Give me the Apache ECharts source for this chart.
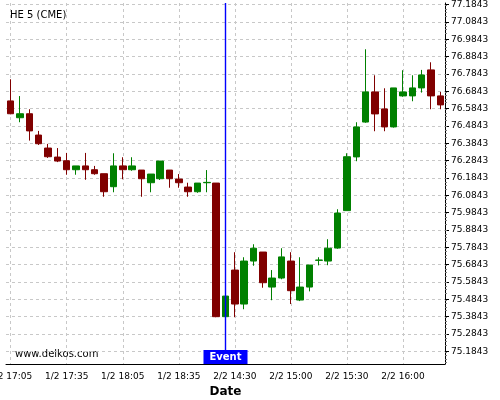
<!DOCTYPE html>
<html><head><meta charset="utf-8">
<script src="https://cdn.jsdelivr.net/npm/echarts@6/dist/echarts.min.js"></script>
<style>html,body{margin:0;padding:0;background:#fff}#c{width:500px;height:400px}</style>
</head><body><div id="c"></div>
<script>
const categories = [
  '1/2 17:05','1/2 17:10','1/2 17:15','1/2 17:20','1/2 17:25','1/2 17:30',
  '1/2 17:35','1/2 17:40','1/2 17:45','1/2 17:50','1/2 17:55','1/2 18:00',
  '1/2 18:05','1/2 18:10','1/2 18:15','1/2 18:20','1/2 18:25','1/2 18:30',
  '1/2 18:35','1/2 18:40','1/2 18:45','1/2 18:50','1/2 18:55','2/2 14:25',
  '2/2 14:30','2/2 14:35','2/2 14:40','2/2 14:45','2/2 14:50','2/2 14:55',
  '2/2 15:00','2/2 15:05','2/2 15:10','2/2 15:15','2/2 15:20','2/2 15:25',
  '2/2 15:30','2/2 15:35','2/2 15:40','2/2 15:45','2/2 15:50','2/2 15:55',
  '2/2 16:00','2/2 16:05','2/2 16:10','2/2 16:15','2/2 16:20'
];
const opens = [
  76.629,76.532,76.555,76.432,76.357,76.305,76.284,76.232,76.254,76.232,76.209,76.134,
  76.254,76.232,76.230,76.157,76.180,76.230,76.178,76.132,76.105,76.157,76.155,75.384,
  75.653,75.457,75.705,75.757,75.555,75.607,75.705,75.480,75.555,75.709,75.705,75.780,
  75.996,76.306,76.507,76.681,76.583,76.479,76.658,76.658,76.704,76.808,76.658
];
const closes = [
  76.555,76.555,76.456,76.382,76.307,76.282,76.232,76.254,76.232,76.209,76.105,76.254,
  76.232,76.254,76.180,76.207,76.282,76.180,76.157,76.105,76.155,76.159,75.384,75.503,
  75.457,75.705,75.779,75.580,75.607,75.729,75.534,75.555,75.682,75.711,75.779,75.982,
  76.307,76.479,76.681,76.554,76.479,76.704,76.681,76.704,76.779,76.658,76.606
];
const lows = [
  76.552,76.506,76.400,76.375,76.300,76.276,76.203,76.203,76.174,76.203,76.076,76.102,
  76.177,76.226,76.076,76.102,76.173,76.128,76.128,76.076,76.099,76.102,75.381,75.384,
  75.381,75.427,75.678,75.551,75.479,75.600,75.457,75.474,75.530,75.680,75.681,75.776,
  75.996,76.281,76.503,76.454,76.454,76.475,76.653,76.627,76.677,76.581,76.581
];
const highs = [
  76.754,76.657,76.581,76.456,76.381,76.357,76.329,76.254,76.329,76.254,76.209,76.327,
  76.304,76.304,76.230,76.207,76.282,76.230,76.207,76.157,76.155,76.230,76.155,75.503,
  75.756,75.727,75.802,75.757,75.653,75.779,75.756,75.727,75.682,75.727,75.831,76.004,
  76.327,76.506,76.927,76.777,76.702,76.704,76.806,76.777,76.808,76.852,76.681
];
const yTickValues = [
  75.1843,75.2843,75.3843,75.4843,75.5843,75.6843,75.7843,75.8843,75.9843,76.0843,
  76.1843,76.2843,76.3843,76.4843,76.5843,76.6843,76.7843,76.8843,76.9843,77.0843,77.1843
];
const eventCategory = '2/2 14:25';
const yMin = 75.111, yMax = 77.194;

const candleData = categories.map((c, i) => [opens[i], closes[i], lows[i], highs[i]]);
const grid = { color: '#c8c8c8', type: [3, 3], width: 1 };
const FONT = 'DejaVu Sans';

const chart = echarts.init(document.getElementById('c'), null, { renderer: 'canvas' });
chart.setOption({
  animation: false,
  backgroundColor: '#fff',
  textStyle: { fontFamily: FONT },
  title: {
    text: 'HE 5 (CME)', left: 10, top: 10, padding: 0,
    textStyle: { fontSize: 10, fontWeight: 'normal', color: '#000', fontFamily: FONT }
  },
  graphic: [{
    type: 'text', left: 15, top: 349,
    style: { text: 'www.delkos.com', fontSize: 10, fill: '#000', fontFamily: FONT }
  }],
  grid: { left: 6, right: 55, top: 3, bottom: 36, containLabel: false, outerBoundsMode: 'none' },
  xAxis: {
    type: 'category', data: categories, boundaryGap: true,
    axisLine: { lineStyle: { color: '#000', width: 1 } },
    axisTick: { interval: 2, alignWithLabel: true, length: 4, lineStyle: { color: '#000' } },
    axisLabel: { interval: 5, fontSize: 9, color: '#000', margin: 8, fontFamily: FONT },
    splitLine: { show: true, interval: 5, alignWithLabel: true, lineStyle: grid },
    name: 'Date', nameLocation: 'middle', nameGap: 20,
    nameTextStyle: { fontSize: 12, fontWeight: 'bold', color: '#000', fontFamily: FONT }
  },
  yAxis: {
    type: 'value', position: 'right', min: yMin, max: yMax, splitNumber: 20, scale: true,
    axisLine: { show: true, lineStyle: { color: '#000', width: 1 } },
    axisTick: { show: true, customValues: yTickValues, length: 4, lineStyle: { color: '#000' } },
    minorTick: { show: true, splitNumber: 5, length: 2, lineStyle: { color: '#777' } },
    axisLabel: { customValues: yTickValues, formatter: v => Number(v).toFixed(4),
      fontSize: 9, color: '#000', margin: 6, fontFamily: FONT },
    splitLine: { show: true, lineStyle: grid }
  },
  series: [{
    type: 'candlestick',
    data: candleData,
    barWidth: 7,
    itemStyle: { color: '#008000', color0: '#800000', borderColor: '#008000', borderColor0: '#800000', borderWidth: 1 }
  }, {
    type: 'line',
    name: 'Event',
    data: [[eventCategory, yMin], [eventCategory, yMax]],
    showSymbol: false, symbol: 'none', silent: true, z: 5,
    itemStyle: { color: '#0000ff' },
    lineStyle: { color: '#0000ff', width: 1.4, type: 'solid', opacity: 1 },
    markPoint: {
      silent: true, animation: false, z: 11,
      data: [{
        coord: [eventCategory, yMin], symbol: 'rect', symbolSize: 0,
        label: { show: true, position: 'top', distance: 0, formatter: 'Event',
          color: '#fff', fontWeight: 'bold', fontSize: 10, fontFamily: FONT,
          backgroundColor: '#0000ff', padding: [2, 6, 1, 6], lineHeight: 11 }
      }]
    }
  }]
});
</script></body></html>
